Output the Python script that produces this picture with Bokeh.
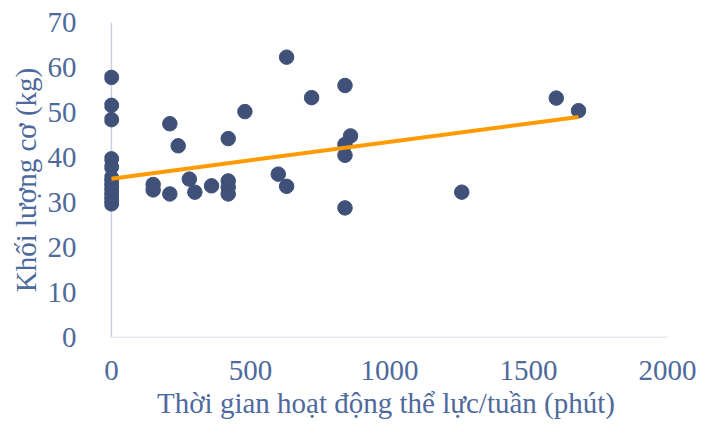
from bokeh.plotting import figure
from bokeh.models import Range1d, FixedTicker
from bokeh.embed import file_html
from bokeh.resources import INLINE

# Data
minutes = [0, 0, 0, 0, 0, 0, 0, 0, 0, 0, 0, 0,
           150, 150, 210, 210, 240, 280, 300, 360,
           420, 420, 420, 420, 480, 600, 630, 630, 720,
           840, 840, 840, 840, 860, 1260, 1600, 1680]
muscle = [57.8, 51.6, 48.4, 39.7, 37.9, 35.5, 34.5, 33.5, 32.5, 31.5, 30.5, 29.7,
          34.0, 32.8, 47.5, 31.9, 42.6, 35.2, 32.3, 33.7,
          44.2, 34.8, 33.4, 31.9, 50.2, 36.3, 62.3, 33.6, 53.3,
          56.0, 42.9, 40.5, 28.8, 44.8, 32.3, 53.2, 50.4]
trend_x = [0, 1680]
trend_y = [35.3, 49.0]
x_ticks = [0, 500, 1000, 1500, 2000]
y_ticks = [0, 10, 20, 30, 40, 50, 60, 70]
x_title = "Thời gian hoạt động thể lực/tuần (phút)"
y_title = "Khối lượng cơ (kg)"

TEXT = "#4E6A9C"
AXIS = "#C9D1E3"
FONT = "Liberation Serif"

p = figure(width=698, height=423, output_backend="svg", toolbar_location=None,
           x_range=Range1d(-25, 2000), y_range=Range1d(0, 70),
           min_border_left=104, min_border_right=31, min_border_top=22, min_border_bottom=86)
p.outline_line_color = None
p.grid.visible = False

# axis lines
p.segment(x0=[0], y0=[0], x1=[0], y1=[70], line_color=AXIS, line_width=1.5)
p.segment(x0=[0], y0=[0], x1=[2000], y1=[0], line_color=AXIS, line_width=1.5)

p.scatter(minutes, muscle, size=14.5, color="#3F5179", line_color="#3F5179")
p.line(trend_x, trend_y, line_color="#FF9A00", line_width=4)

for ax in (p.xaxis, p.yaxis):
    ax.axis_line_color = None
    ax.major_tick_line_color = None
    ax.minor_tick_line_color = None
    ax.major_label_text_font = FONT
    ax.major_label_text_font_size = "29px"
    ax.major_label_text_color = TEXT
    ax.axis_label_text_font = FONT
    ax.axis_label_text_font_size = "29px"
    ax.axis_label_text_font_style = "normal"
    ax.axis_label_text_color = TEXT

p.xaxis.ticker = FixedTicker(ticks=x_ticks)
p.yaxis.ticker = FixedTicker(ticks=y_ticks)
p.xaxis.axis_label = x_title
p.yaxis.axis_label = y_title
p.xaxis.major_label_standoff = 17
p.xaxis.axis_label_standoff = 4
p.yaxis.major_label_standoff = 22
p.yaxis.axis_label_standoff = 3

open("out.html", "w").write(file_html(p, INLINE))
